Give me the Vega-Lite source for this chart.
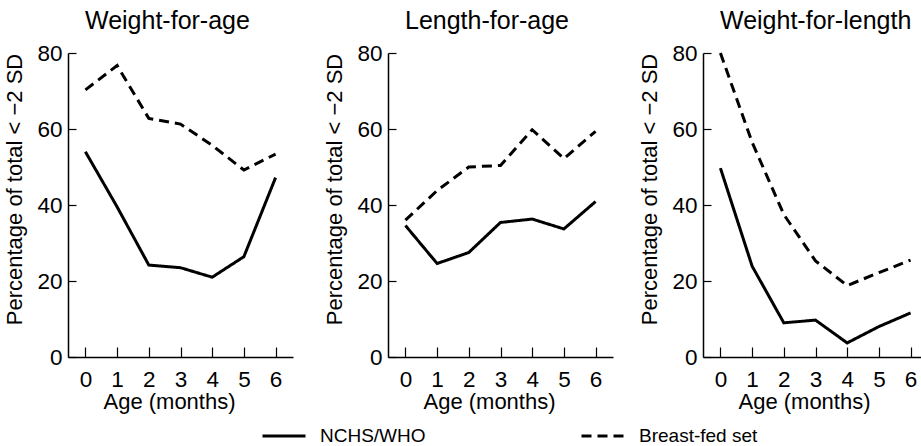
{
  "$schema": "https://vega.github.io/schema/vega-lite/v6.json",
  "background": "white",
  "padding": {"left": 3, "top": 9, "right": 0, "bottom": 0},
  "datasets": {
    "growth": [
      {"panel": "Weight-for-age", "series": "NCHS/WHO", "age": 0, "pct": 54.0},
      {"panel": "Weight-for-age", "series": "NCHS/WHO", "age": 1, "pct": 39.5},
      {"panel": "Weight-for-age", "series": "NCHS/WHO", "age": 2, "pct": 24.2},
      {"panel": "Weight-for-age", "series": "NCHS/WHO", "age": 3, "pct": 23.5},
      {"panel": "Weight-for-age", "series": "NCHS/WHO", "age": 4, "pct": 21.0},
      {"panel": "Weight-for-age", "series": "NCHS/WHO", "age": 5, "pct": 26.4},
      {"panel": "Weight-for-age", "series": "NCHS/WHO", "age": 6, "pct": 47.2},
      {"panel": "Weight-for-age", "series": "Breast-fed set", "age": 0, "pct": 70.3},
      {"panel": "Weight-for-age", "series": "Breast-fed set", "age": 1, "pct": 76.7},
      {"panel": "Weight-for-age", "series": "Breast-fed set", "age": 2, "pct": 62.8},
      {"panel": "Weight-for-age", "series": "Breast-fed set", "age": 3, "pct": 61.3},
      {"panel": "Weight-for-age", "series": "Breast-fed set", "age": 4, "pct": 55.7},
      {"panel": "Weight-for-age", "series": "Breast-fed set", "age": 5, "pct": 49.2},
      {"panel": "Weight-for-age", "series": "Breast-fed set", "age": 6, "pct": 53.4},
      {"panel": "Length-for-age", "series": "NCHS/WHO", "age": 0, "pct": 34.6},
      {"panel": "Length-for-age", "series": "NCHS/WHO", "age": 1, "pct": 24.6},
      {"panel": "Length-for-age", "series": "NCHS/WHO", "age": 2, "pct": 27.5},
      {"panel": "Length-for-age", "series": "NCHS/WHO", "age": 3, "pct": 35.4},
      {"panel": "Length-for-age", "series": "NCHS/WHO", "age": 4, "pct": 36.3},
      {"panel": "Length-for-age", "series": "NCHS/WHO", "age": 5, "pct": 33.7},
      {"panel": "Length-for-age", "series": "NCHS/WHO", "age": 6, "pct": 40.9},
      {"panel": "Length-for-age", "series": "Breast-fed set", "age": 0, "pct": 36.0},
      {"panel": "Length-for-age", "series": "Breast-fed set", "age": 1, "pct": 43.8},
      {"panel": "Length-for-age", "series": "Breast-fed set", "age": 2, "pct": 50.0},
      {"panel": "Length-for-age", "series": "Breast-fed set", "age": 3, "pct": 50.4},
      {"panel": "Length-for-age", "series": "Breast-fed set", "age": 4, "pct": 59.8},
      {"panel": "Length-for-age", "series": "Breast-fed set", "age": 5, "pct": 52.2},
      {"panel": "Length-for-age", "series": "Breast-fed set", "age": 6, "pct": 59.4},
      {"panel": "Weight-for-length", "series": "NCHS/WHO", "age": 0, "pct": 49.7},
      {"panel": "Weight-for-length", "series": "NCHS/WHO", "age": 1, "pct": 23.9},
      {"panel": "Weight-for-length", "series": "NCHS/WHO", "age": 2, "pct": 9.0},
      {"panel": "Weight-for-length", "series": "NCHS/WHO", "age": 3, "pct": 9.7},
      {"panel": "Weight-for-length", "series": "NCHS/WHO", "age": 4, "pct": 3.7},
      {"panel": "Weight-for-length", "series": "NCHS/WHO", "age": 5, "pct": 8.0},
      {"panel": "Weight-for-length", "series": "NCHS/WHO", "age": 6, "pct": 11.6},
      {"panel": "Weight-for-length", "series": "Breast-fed set", "age": 0, "pct": 80.0},
      {"panel": "Weight-for-length", "series": "Breast-fed set", "age": 1, "pct": 56.5},
      {"panel": "Weight-for-length", "series": "Breast-fed set", "age": 2, "pct": 37.5},
      {"panel": "Weight-for-length", "series": "Breast-fed set", "age": 3, "pct": 25.3},
      {"panel": "Weight-for-length", "series": "Breast-fed set", "age": 4, "pct": 18.8},
      {"panel": "Weight-for-length", "series": "Breast-fed set", "age": 5, "pct": 22.2},
      {"panel": "Weight-for-length", "series": "Breast-fed set", "age": 6, "pct": 25.5}
    ]
  },
  "data": {"name": "growth"},
  "spacing": 30,
  "resolve": {"scale": {"strokeDash": "shared"}, "legend": {"strokeDash": "shared"}},
  "hconcat": [
    {
      "width": 225, "height": 304,
      "title": {"text": "Weight-for-age"},
      "transform": [{"filter": "datum.panel === 'Weight-for-age'"}],
      "mark": {"type": "line", "strokeWidth": 3, "color": "black"},
      "encoding": {
        "x": {"field": "age", "type": "quantitative", "scale": {"domain": [-0.55, 6.55], "nice": false, "zero": false}, "axis": {"values": [0, 1, 2, 3, 4, 5, 6], "title": "Age (months)", "titleX": 101}},
        "y": {"field": "pct", "type": "quantitative", "scale": {"domain": [0, 80], "nice": false}, "axis": {"values": [0, 20, 40, 60, 80], "title": "Percentage of total < \u22122 SD", "titleY": 136}},
        "strokeDash": {"field": "series", "type": "nominal", "scale": {"domain": ["NCHS/WHO", "Breast-fed set"], "range": [[1, 0], [10, 6]]},
          "legend": {"title": null, "orient": "none", "legendX": 193, "legendY": 360, "direction": "horizontal", "columns": 2, "columnPadding": 149, "symbolType": "stroke", "symbolSize": 1849, "symbolStrokeWidth": 3, "symbolStrokeColor": "black", "labelFontSize": 19, "labelFont": "Liberation Sans", "labelColor": "black", "labelOffset": 13, "labelLimit": 300}}
      }
    },
    {
      "spacing": 25,
      "resolve": {"scale": {"strokeDash": "shared"}, "legend": {"strokeDash": "shared"}},
      "hconcat": [
        {
          "width": 225, "height": 304,
          "title": {"text": "Length-for-age"},
          "transform": [{"filter": "datum.panel === 'Length-for-age'"}],
          "mark": {"type": "line", "strokeWidth": 3, "color": "black"},
          "encoding": {
            "x": {"field": "age", "type": "quantitative", "scale": {"domain": [-0.55, 6.55], "nice": false, "zero": false}, "axis": {"values": [0, 1, 2, 3, 4, 5, 6], "title": "Age (months)", "titleX": 101}},
            "y": {"field": "pct", "type": "quantitative", "scale": {"domain": [0, 80], "nice": false}, "axis": {"values": [0, 20, 40, 60, 80], "title": "Percentage of total < \u22122 SD", "titleY": 136}},
            "strokeDash": {"field": "series", "type": "nominal"}
          }
        },
        {
          "width": 225, "height": 304,
          "title": {"text": "Weight-for-length"},
          "transform": [{"filter": "datum.panel === 'Weight-for-length'"}],
          "mark": {"type": "line", "strokeWidth": 3, "color": "black"},
          "encoding": {
            "x": {"field": "age", "type": "quantitative", "scale": {"domain": [-0.55, 6.55], "nice": false, "zero": false}, "axis": {"values": [0, 1, 2, 3, 4, 5, 6], "title": "Age (months)", "titleX": 101}},
            "y": {"field": "pct", "type": "quantitative", "scale": {"domain": [0, 80], "nice": false}, "axis": {"values": [0, 20, 40, 60, 80], "title": "Percentage of total < \u22122 SD", "titleY": 136}},
            "strokeDash": {"field": "series", "type": "nominal"}
          }
        }
      ]
    }
  ],
  "config": {
    "view": {"stroke": null},
    "font": "Liberation Sans",
    "title": {"anchor": "start", "frame": "group", "dx": 17, "fontSize": 25, "fontWeight": "normal", "font": "Liberation Sans", "color": "black", "offset": 8},
    "axis": {
      "grid": false,
      "domainColor": "black", "domainWidth": 1.5,
      "tickColor": "black", "tickWidth": 1.2,
      "labelColor": "black", "labelFont": "Liberation Sans", "labelFontSize": 22.5,
      "titleColor": "black", "titleFont": "Liberation Sans", "titleFontSize": 22, "titleFontWeight": "normal"
    },
    "axisX": {"tickSize": -10, "labelPadding": 21, "titlePadding": 1},
    "axisY": {"tickSize": -8, "labelPadding": 14, "titlePadding": 10}
  }
}
